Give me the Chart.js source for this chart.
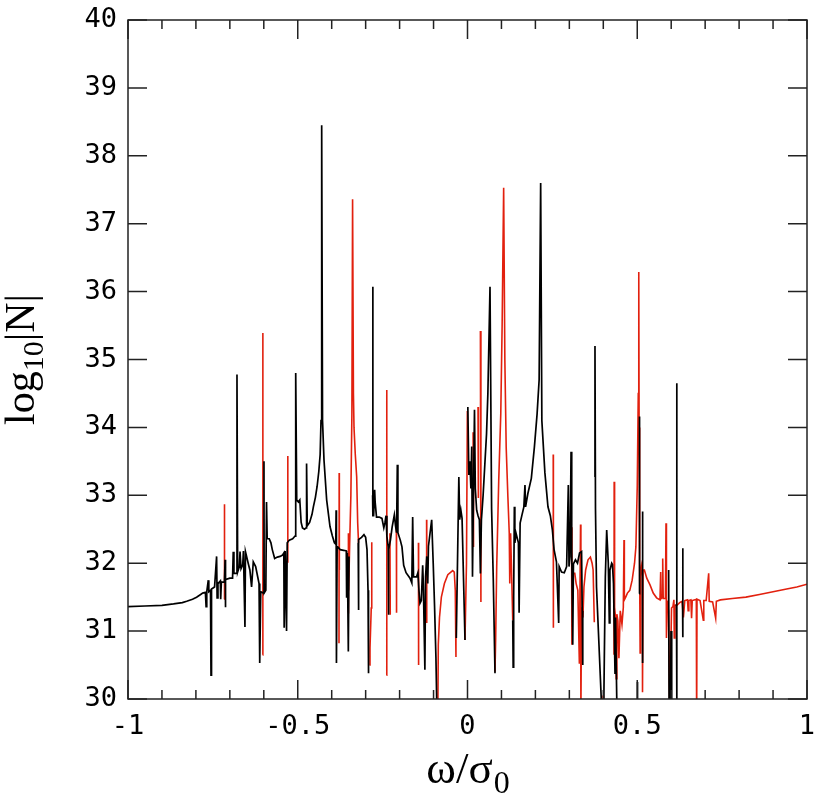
<!DOCTYPE html>
<html>
<head>
<meta charset="utf-8">
<script src="https://cdn.jsdelivr.net/npm/chart.js@4.4.1/dist/chart.umd.min.js"></script>
<style>
  html, body { margin: 0; padding: 0; background: #fff; }
  #wrap { width: 821px; height: 802px; }
</style>
</head>
<body>
<div id="wrap"><canvas id="chart" width="821" height="802"></canvas></div>
<script>
// tick values
const xTicks = [-1, -0.5, 0, 0.5, 1];
const xMinorTicks = [-1, -0.9, -0.8, -0.7, -0.6, -0.5, -0.4, -0.3, -0.2, -0.1, 0, 0.1, 0.2, 0.3, 0.4, 0.5, 0.6, 0.7, 0.8, 0.9, 1];
const yTicks = [30, 31, 32, 33, 34, 35, 36, 37, 38, 39, 40];

// black curve (null = break)
const blackX = [
  -1.000, -0.950, -0.900, -0.866, -0.840, -0.827, -0.810, -0.798, -0.786, -0.780,
  -0.772, -0.770, -0.768, -0.7635, -0.762, -0.757, -0.7555, -0.754, -0.745, -0.739,
  -0.7375, -0.735, -0.728, -0.727, -0.725, -0.716, -0.714, -0.7135, -0.712, -0.700,
  -0.692, -0.690, -0.688, -0.681, -0.679, -0.677, -0.672, -0.670, -0.667, -0.662,
  -0.660, -0.6555, -0.654, -0.646, -0.641, -0.636, -0.631, -0.624, -0.618, -0.614,
  -0.612, -0.609, -0.6005, -0.5995, -0.599, -0.594, -0.592, -0.590, -0.584, -0.579,
  -0.575, -0.568, -0.560, -0.552, -0.5445, -0.541, -0.540, -0.537, -0.533, -0.531,
  -0.525, -0.515, -0.508, -0.506, -0.503, -0.498, -0.494, -0.490, -0.486, -0.480,
  -0.4755, -0.474, -0.472, -0.465, -0.458, -0.454, -0.448, -0.443, -0.438, -0.434,
  -0.4315, -0.4295, -0.427, -0.4227, -0.4148, -0.405, -0.398, -0.392, -0.388, -0.387,
  -0.386, -0.384, -0.375, -0.365, -0.357, -0.356, -0.354, -0.351, -0.349, null,
  -0.322, -0.3215, -0.320, -0.312, -0.305, -0.300, -0.296, -0.293, -0.2915, null,
  -0.2795, -0.279, -0.2785, -0.2765, -0.2735, -0.272, -0.268, -0.260, -0.252, -0.2465,
  -0.243, -0.240, -0.2375, -0.2335, -0.233, -0.2315, -0.227, -0.222, -0.2155, -0.212,
  -0.209, -0.2067, -0.205, -0.198, -0.193, -0.188, -0.181, -0.1694, -0.164, -0.1615,
  -0.159, -0.150, -0.146, -0.143, -0.140, -0.136, -0.132, -0.130, -0.1255, -0.1235,
  -0.120, -0.117, -0.115, -0.1055, -0.101, -0.097, -0.093, -0.089, null,
  -0.033, -0.0255, -0.023, -0.0195, -0.016, -0.0074, null,
  0.001, 0.004, 0.007, 0.010, 0.0125, 0.0147, 0.0175, 0.0206, 0.023, 0.027,
  0.031, 0.035, 0.038, 0.041, 0.046, 0.051, 0.056, 0.060, 0.0663, 0.071,
  0.076, 0.081, null,
  0.1333, 0.1345, 0.136, 0.138, 0.1395, 0.143, 0.150, 0.152, 0.155, 0.160,
  0.166, 0.1693, 0.171, 0.178, 0.188, 0.197, 0.205, 0.211, 0.2155, 0.219,
  0.228, 0.237, 0.244, 0.250, 0.255, 0.262, 0.2686, 0.270, 0.277, 0.285,
  0.292, 0.297, 0.299, 0.302, 0.305, 0.307, 0.310, 0.312, 0.318, 0.324,
  0.330, 0.336, 0.338, 0.3395, null,
  0.3745, 0.3755, 0.377, 0.380, 0.3875, 0.394, 0.3965, null,
  0.4005, 0.403, 0.406, 0.410, 0.4147, 0.4177, 0.4195, 0.4247, 0.427, 0.430,
  0.4345, 0.436, 0.4412, null,
  0.500, 0.5005, 0.501, null,
  0.506, 0.5065, 0.507, null,
  0.5153, 0.5155, 0.5162, null,
  0.5925, 0.594, null,
  0.5975, 0.5995, 0.6015, null,
  0.6155, 0.6163, 0.6168, null,
  0.6335, 0.634, 0.6345
];
const blackY = [
  31.36, 31.37, 31.38, 31.40, 31.42, 31.44, 31.47, 31.50, 31.54, 31.56,
  31.57, 31.36, 31.58, 31.75, 31.58, 31.60, 30.35, 31.62, 31.65, 32.10,
  31.49, 31.70, 31.74, 31.47, 31.72, 31.72, 32.05, 31.35, 31.76, 31.78,
  31.78, 32.17, 31.85, 31.85, 34.78, 31.87, 31.95, 32.17, 31.92, 31.98,
  32.18, 31.06, 32.17, 32.00, 31.90, 31.65, 32.02, 31.95, 31.80, 31.70,
  30.53, 31.58, 31.56, 33.50, 31.56, 31.60, 32.90, 32.36, 32.36, 32.30,
  32.20, 32.07, 32.09, 32.10, 32.12, 32.15, 31.05, 32.18, 31.00, 32.30,
  32.34, 32.36, 32.40, 34.80, 32.93, 32.90, 32.93, 32.60, 32.52, 32.50,
  32.52, 33.47, 32.55, 32.60, 32.72, 32.83, 32.97, 33.13, 33.35, 33.60,
  34.10, 38.45, 34.10, 33.52, 32.93, 32.54, 32.40, 32.30, 32.28, 32.78,
  30.53, 32.25, 32.20, 32.19, 32.18, 31.49, 32.15, 30.70, 32.10, null,
  32.30, 31.31, 32.35, 32.38, 32.42, 32.38, 32.20, 31.60, 30.38, null,
  33.00, 36.07, 32.70, 32.70, 33.08, 32.90, 32.68, 32.68, 32.66, 32.52,
  32.60, 32.70, 32.40, 32.24, 31.24, 32.20, 32.34, 32.53, 32.71, 32.55,
  32.45, 33.45, 32.45, 32.34, 32.24, 31.97, 31.86, 31.78, 31.71, 32.68,
  31.80, 31.80, 31.86, 31.60, 31.41, 31.45, 31.97, 31.68, 30.43, 31.80,
  32.10, 31.70, 32.25, 32.64, 32.00, 31.36, 30.62, 29.50, null,
  30.90, 33.27, 32.64, 32.78, 32.66, 30.87, null,
  34.30, 33.30, 33.50, 33.10, 33.72, 31.80, 33.00, 34.26, 33.10, 32.78,
  32.70, 32.64, 31.85, 32.64, 33.00, 33.45, 33.90, 34.50, 36.07, 32.80,
  31.75, 30.38, null,
  31.16, 30.47, 31.50, 32.83, 32.30, 32.44, 32.30, 31.27, 32.59, 32.70,
  32.83, 33.15, 32.83, 33.03, 33.25, 33.71, 34.20, 34.70, 37.60, 34.10,
  33.33, 32.83, 32.70, 32.49, 32.20, 32.02, 31.12, 31.95, 31.87, 31.86,
  31.95, 33.15, 31.95, 32.10, 33.64, 32.20, 30.80, 31.99, 32.05, 32.00,
  32.15, 32.17, 31.30, 30.50, null,
  33.27, 35.20, 32.80, 31.65, 30.77, 30.00, 29.50, null,
  29.50, 30.60, 31.80, 32.49, 32.00, 31.12, 31.90, 32.00, 31.98, 31.70,
  30.38, 31.20, 29.50, null,
  29.50, 30.25, 29.50, null,
  31.55, 34.16, 31.55, null,
  31.90, 32.76, 30.53, null,
  31.90, 29.50, null,
  29.50, 31.00, 29.50, null,
  31.40, 34.65, 30.00, null,
  31.44, 32.22, 30.91
];

// red curve (null = break)
const redX = [
  -0.7163, -0.716, -0.7155, null,
  -0.6035, -0.603, -0.6025, null,
  -0.530, -0.5295, -0.529, null,
  -0.3785, -0.378, -0.3775, null,
  -0.3515, -0.351, -0.3505, null,
  -0.350, -0.347, -0.3435, -0.3405, -0.3385, -0.336, -0.3343, -0.3305, -0.3264, -0.3235,
  -0.321, null,
  -0.289, -0.2872, -0.2835, -0.2825, -0.2815, null,
  -0.2385, -0.238, -0.2375, null,
  -0.2285, -0.2275, null,
  -0.2095, -0.209, null,
  -0.1445, -0.144, null,
  -0.1205, -0.120, null,
  -0.0878, -0.086, -0.0825, -0.077, -0.068, -0.058, -0.0436, -0.039, -0.036, -0.034, null,
  -0.0074, -0.003, -0.0004, null,
  0.0165, 0.0177, null,
  0.031, 0.032, null,
  0.038, 0.0395, null,
  0.081, 0.083, 0.086, 0.092, 0.098, 0.102, 0.1065, 0.110, 0.114, 0.119,
  0.123, 0.1245, 0.127, 0.1333, null,
  0.2525, 0.253, null,
  0.3065, 0.3075, 0.309, 0.312, 0.316, 0.320, 0.325, 0.3295, 0.331, 0.333,
  0.334, 0.336, 0.340, 0.343, 0.348, 0.355, 0.362, 0.367, 0.370, 0.3735, null,
  0.3985, 0.3995, 0.4005, null,
  0.4315, 0.432, 0.4325, 0.434, 0.436, 0.438, 0.440, 0.443, 0.446, 0.450,
  0.455, 0.459, 0.461, 0.462, 0.466, 0.471, 0.478, 0.485, 0.492, 0.496,
  0.500, 0.503, 0.5045, 0.5055, 0.507, 0.5085, 0.5095, 0.512, 0.515, 0.5155,
  0.517, 0.521, 0.528, 0.5376, 0.547, 0.557, 0.567, 0.569, 0.5705, 0.574,
  0.575, 0.5765, 0.583, 0.5847, 0.586, 0.588, 0.592, 0.5965, 0.598, 0.601,
  0.605, 0.608, 0.609, 0.611, 0.617, 0.625, 0.632, 0.636, 0.640, 0.648,
  0.650, 0.652, 0.658, 0.660, 0.662, 0.670, 0.674, 0.675, 0.676, 0.685,
  0.6946, 0.696, 0.703, 0.7104, 0.712, 0.722, 0.731, 0.733, 0.745, 0.780,
  0.820, 0.860, 0.900, 0.940, 0.970, 1.000
];
const redY = [
  31.47, 32.87, 31.50, null,
  30.65, 35.39, 31.50, null,
  32.02, 33.58, 32.10, null,
  30.82, 33.33, 31.90, null,
  31.27, 32.44, 31.40, null,
  31.60, 32.30, 33.00, 34.20, 37.36, 34.50, 34.00, 33.60, 33.27, 32.60,
  32.30, null,
  30.50, 30.75, 31.34, 32.31, 31.34, null,
  30.35, 34.55, 32.30, null,
  32.44, 31.24, null,
  32.56, 31.27, null,
  32.30, 30.50, null,
  32.64, 31.12, null,
  29.50, 30.80, 31.20, 31.50, 31.70, 31.83, 31.89, 31.87, 31.60, 30.62, null,
  30.87, 32.00, 34.24, null,
  33.93, 32.24, null,
  34.30, 32.96, null,
  35.42, 31.43, null,
  30.40, 30.90, 31.94, 33.22, 34.20, 35.50, 37.53, 35.00, 33.70, 32.97,
  32.44, 31.70, 32.44, 31.16, null,
  33.60, 31.05, null,
  32.53, 30.80, 31.80, 31.85, 31.85, 31.70, 31.60, 30.53, 31.40, 32.57,
  29.80, 31.35, 31.20, 31.65, 31.90, 32.05, 32.09, 32.00, 31.90, 31.13, null,
  29.50, 30.05, 29.50, null,
  30.65, 33.20, 30.65, 31.35, 31.20, 30.30, 31.25, 31.15, 30.60, 31.30,
  31.10, 31.35, 32.34, 31.46, 31.50, 31.56, 31.60, 31.75, 32.00, 32.24,
  33.13, 34.50, 36.29, 34.00, 31.90, 30.68, 31.85, 31.95, 31.80, 30.10,
  31.90, 31.90, 31.78, 31.68, 31.56, 31.49, 31.46, 31.87, 31.48, 31.50,
  32.07, 31.48, 31.48, 32.59, 30.90, 31.45, 31.30, 29.50, 30.50, 31.34,
  31.36, 31.46, 30.90, 31.38, 31.38, 31.42, 31.44, 31.20, 31.45, 31.46,
  31.30, 31.45, 31.46, 31.19, 31.45, 31.46, 31.47, 29.50, 31.47, 31.45,
  31.16, 31.45, 31.45, 31.85, 31.44, 31.43, 31.19, 31.44, 31.46, 31.48,
  31.50, 31.54, 31.58, 31.62, 31.65, 31.69
];

function toPoints(xs, ys) {
  const pts = [];
  let lastX = -1;
  for (let i = 0; i < xs.length; i++) {
    if (xs[i] === null || ys[i] === null) {
      pts.push({ x: lastX, y: null });
    } else {
      lastX = xs[i];
      pts.push({ x: xs[i], y: ys[i] });
    }
  }
  return pts;
}

const TICK_FONT = { family: '"DejaVu Sans Mono", monospace', size: 27 };
const INK = '#222';

// frame, inward ticks and axis titles
const framePlugin = {
  id: 'frame',
  afterDraw(chart) {
    const { ctx, chartArea: a, scales: { x, y } } = chart;
    ctx.save();
    ctx.strokeStyle = INK;
    ctx.lineWidth = 1.5;
    ctx.strokeRect(a.left, a.top, a.right - a.left, a.bottom - a.top);
    ctx.beginPath();
    xMinorTicks.forEach(v => {
      const px = x.getPixelForValue(v);
      const len = xTicks.includes(v) ? 19 : 9;
      ctx.moveTo(px, a.bottom); ctx.lineTo(px, a.bottom - len);
      ctx.moveTo(px, a.top); ctx.lineTo(px, a.top + len);
    });
    yTicks.forEach(v => {
      const py = y.getPixelForValue(v);
      ctx.moveTo(a.left, py); ctx.lineTo(a.left + 19, py);
      ctx.moveTo(a.right, py); ctx.lineTo(a.right - 19, py);
    });
    ctx.stroke();

    ctx.fillStyle = '#000';
    ctx.textBaseline = 'alphabetic';
    ctx.textAlign = 'left';
    const serif = '"Liberation Serif", "DejaVu Serif", serif';

    // x title: ω/σ0
    ctx.font = '45px ' + serif;
    const wMain = ctx.measureText('ω/σ').width;
    ctx.font = '32px ' + serif;
    const wSub = ctx.measureText('0').width;
    const sx = (a.left + a.right) / 2 - (wMain + wSub) / 2;
    ctx.font = '45px ' + serif;
    ctx.fillText('ω/σ', sx, 783);
    ctx.font = '32px ' + serif;
    ctx.fillText('0', sx + wMain + 1, 793);

    // y title: log10|N|
    ctx.save();
    ctx.translate(34, (a.top + a.bottom) / 2);
    ctx.rotate(-Math.PI / 2);
    ctx.font = '42px ' + serif;
    const w1 = ctx.measureText('log').width;
    const w3 = ctx.measureText('|N|').width;
    ctx.font = '30px ' + serif;
    const w2 = ctx.measureText('10').width;
    const tx = -(w1 + w2 + w3) / 2;
    ctx.font = '42px ' + serif;
    ctx.fillText('log', tx, 0);
    ctx.font = '30px ' + serif;
    ctx.fillText('10', tx + w1, 9);
    ctx.font = '42px ' + serif;
    ctx.fillText('|N|', tx + w1 + w2, 0);
    ctx.restore();

    ctx.restore();
  }
};

new Chart(document.getElementById('chart'), {
  type: 'scatter',
  data: {
    datasets: [{
      label: 'black',
      data: toPoints(blackX, blackY),
      showLine: true,
      borderColor: '#000',
      borderWidth: 1.7,
      pointRadius: 0,
      tension: 0,
      spanGaps: false,
      clip: 0
    }, {
      label: 'red',
      data: toPoints(redX, redY),
      showLine: true,
      borderColor: '#e2200e',
      borderWidth: 1.6,
      pointRadius: 0,
      tension: 0,
      spanGaps: false,
      clip: 0
    }]
  },
  options: {
    responsive: false,
    animation: false,
    events: [],
    layout: { padding: { top: 20, right: 14, left: 0, bottom: 0 } },
    plugins: { legend: { display: false }, tooltip: { enabled: false } },
    scales: {
      x: {
        type: 'linear',
        min: -1,
        max: 1,
        afterBuildTicks: s => { s.ticks = xTicks.map(v => ({ value: v })); },
        afterFit: s => { s.height = 103; s.paddingLeft = 0; s.paddingRight = 0; },
        grid: { display: false, drawTicks: false },
        border: { display: false },
        ticks: {
          font: TICK_FONT,
          color: '#000',
          padding: 12,
          maxRotation: 0,
          autoSkip: false,
          callback: v => String(v)
        }
      },
      y: {
        type: 'linear',
        min: 30,
        max: 40,
        afterBuildTicks: s => { s.ticks = yTicks.map(v => ({ value: v })); },
        afterFit: s => { s.width = 128; s.paddingTop = 0; s.paddingBottom = 0; },
        grid: { display: false, drawTicks: false },
        border: { display: false },
        ticks: {
          font: TICK_FONT,
          color: '#000',
          padding: 11,
          autoSkip: false,
          callback: v => String(v)
        }
      }
    }
  },
  plugins: [framePlugin]
});
</script>
</body>
</html>
